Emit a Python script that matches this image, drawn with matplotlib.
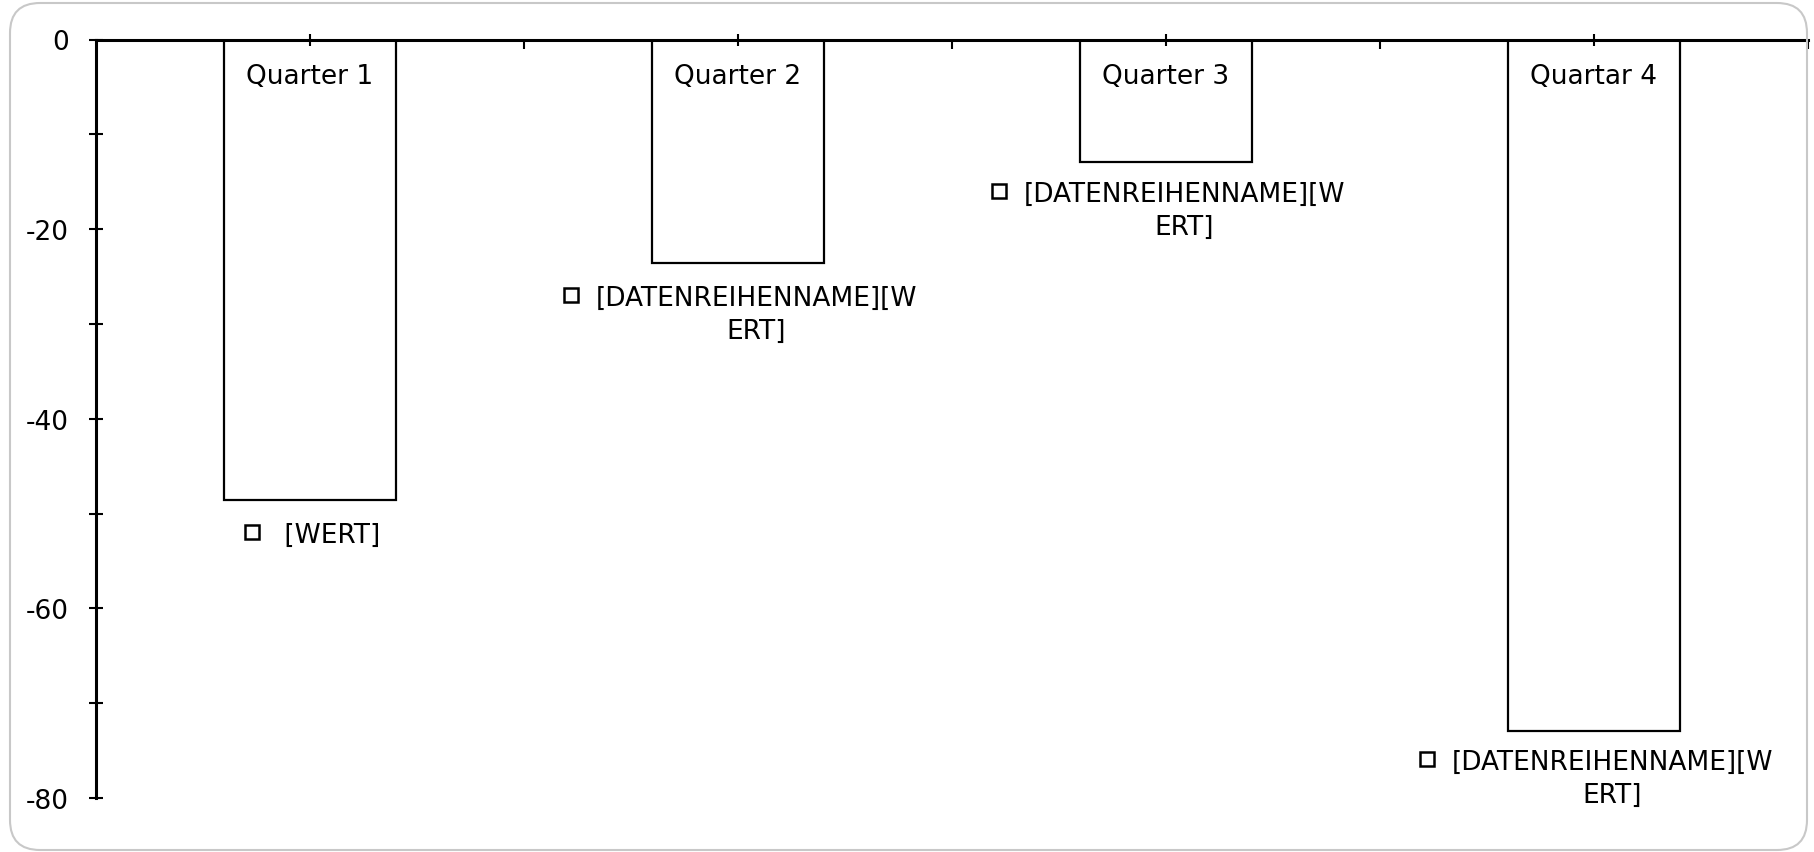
import numpy as np
import matplotlib.pyplot as plt
from matplotlib.patches import FancyBboxPatch
from matplotlib.lines import Line2D
from matplotlib.ticker import MultipleLocator
from matplotlib.transforms import IdentityTransform

# chart data
categories = ['Quarter 1', 'Quarter 2', 'Quarter 3', 'Quartar 4']
values = [-48.6, -23.6, -12.9, -72.9]
point_labels = [' [WERT]',
                '[DATENREIHENNAME][W\nERT]',
                '[DATENREIHENNAME][W\nERT]',
                '[DATENREIHENNAME][W\nERT]']
label_gap = [22, 22, 19, 18]  # pixels between bar end and its label

plt.rcParams['font.family'] = 'DejaVu Sans'
plt.rcParams['axes.unicode_minus'] = False

W, H = 1814, 853
fig = plt.figure(figsize=(W / 100, H / 100), dpi=100)
ax = fig.add_axes([96 / W, 54 / H, 1712 / W, 758.5 / H])
ax.set_axisbelow(False)

x = np.arange(len(categories))
ax.bar(x, values, width=0.4, color='white', edgecolor='black', linewidth=1.6, zorder=1)

ax.set_xlim(-0.5, 3.5)
ax.set_ylim(-80, 0)
for s in ['top', 'right']:
    ax.spines[s].set_visible(False)
ax.spines['bottom'].set_position(('data', 0))
ax.spines['bottom'].set_linewidth(2.2)
ax.spines['left'].set_linewidth(2.2)

ax.set_xticks(x, categories)
ax.set_xticks(np.arange(0.5, 4, 1), minor=True)
ax.tick_params(axis='x', which='major', direction='inout', length=8.6, width=1.5,
               pad=12.5, labelsize=19)
ax.tick_params(axis='x', which='minor', direction='out', length=6.5, width=1.5)
ax.yaxis.set_major_locator(MultipleLocator(20))
ax.yaxis.set_minor_locator(MultipleLocator(10))
ax.tick_params(axis='y', which='both', direction='inout', length=10, width=1.5,
               pad=14.4, labelsize=19)

# data labels with a small legend key in front
texts = []
for i, (v, lab, g) in enumerate(zip(values, point_labels, label_gap)):
    t = ax.annotate(lab, xy=(i, v), xytext=(18, -g), textcoords='offset pixels',
                    ha='center', va='top', multialignment='center',
                    fontsize=19, linespacing=1.35)
    texts.append(t)

fig.canvas.draw()
renderer = fig.canvas.get_renderer()
for t in texts:
    bb = t.get_window_extent(renderer)
    fig.add_artist(Line2D([bb.x0 - 24], [bb.y1 - 10], transform=IdentityTransform(),
                          marker='s', markersize=9.5, markeredgewidth=1.8,
                          markerfacecolor='white', markeredgecolor='black',
                          linestyle='none'))

# rounded outer frame
frame = FancyBboxPatch((10, 2), 1797, 847, boxstyle='round,pad=0,rounding_size=30',
                       transform=IdentityTransform(), facecolor='none',
                       edgecolor='#c8c8c8', linewidth=1.5)
fig.add_artist(frame)

plt.savefig('out.png', dpi=100)
